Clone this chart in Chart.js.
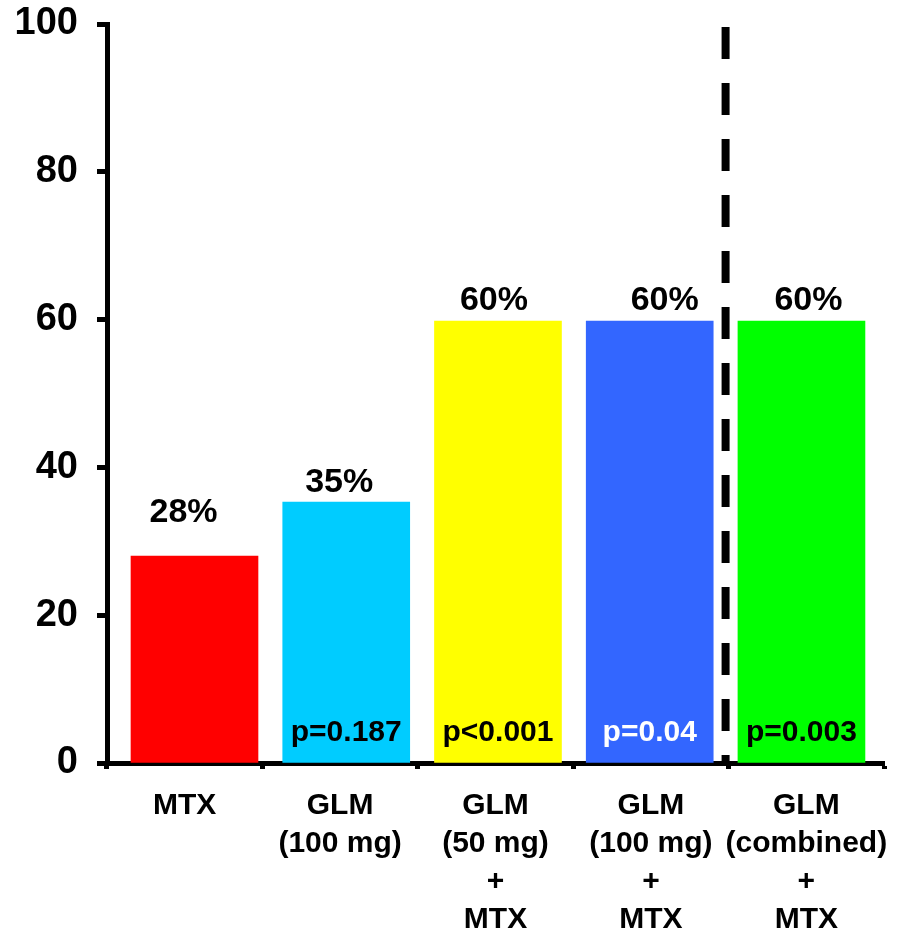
<!DOCTYPE html>
<html>
<head>
<meta charset="utf-8">
<script src="https://cdn.jsdelivr.net/npm/chart.js@4.4.1/dist/chart.umd.min.js"></script>
<style>
  html, body { margin: 0; padding: 0; background: #fff; }
  #wrap { width: 919px; height: 932px; position: relative; }
</style>
</head>
<body>
<div id="wrap"><canvas id="chart"></canvas></div>
<script>
// groups on the x axis (each one a list of label lines)
const groups = [
  ["MTX"],
  ["GLM", "(100 mg)"],
  ["GLM", "(50 mg)", "+", "MTX"],
  ["GLM", "(100 mg)", "+", "MTX"],
  ["GLM", "(combined)", "+", "MTX"],
];
// response rate, %
const responseRates = [28, 35.3, 59.8, 59.8, 59.8];
const valueLabels = ["28%", "35%", "60%", "60%", "60%"];
const pValues = ["", "p=0.187", "p<0.001", "p=0.04", "p=0.003"];
const yTicks = [0, 20, 40, 60, 80, 100];

const barColors = ["#ff0000", "#00ccff", "#ffff00", "#3366ff", "#00ff00"];
const pColors = ["#000", "#000", "#000", "#fff", "#000"];
// small nudges for the percent labels [dx, dy]
const labelNudge = [[-11, -23], [-7, 0], [-4, 0], [15, 0], [7, 0]];

const FONT = "Arial, 'Liberation Sans', sans-serif";

const barLabels = {
  id: "barLabels",
  afterDatasetsDraw(chart) {
    const ctx = chart.ctx;
    const meta = chart.getDatasetMeta(0);
    const yScale = chart.scales.y;
    const xb = chart.scales.xb;
    ctx.save();
    ctx.textAlign = "center";
    ctx.textBaseline = "middle";
    meta.data.forEach((bar, i) => {
      ctx.font = "bold 34px " + FONT;
      ctx.fillStyle = "#000";
      ctx.fillText(valueLabels[i], bar.x + labelNudge[i][0], bar.y - 20 + labelNudge[i][1]);
      if (pValues[i]) {
        ctx.font = "bold 30px " + FONT;
        ctx.fillStyle = pColors[i];
        ctx.fillText(pValues[i], bar.x, yScale.getPixelForValue(0) - 30);
      }
    });
    // dashed separator between the single-dose groups and the combined group
    const x = xb.getPixelForValue(3.5);
    ctx.beginPath();
    ctx.setLineDash([32, 24]);
    ctx.lineWidth = 8;
    ctx.strokeStyle = "#000";
    ctx.moveTo(x, chart.chartArea.top + 3);
    ctx.lineTo(x, chart.chartArea.bottom);
    ctx.stroke();
    ctx.restore();
  }
};

new Chart(document.getElementById("chart"), {
  type: "bar",
  data: {
    labels: groups,
    datasets: [{
      data: responseRates.map((v, i) => ({ x: i, y: v })),
      backgroundColor: barColors,
      borderWidth: 0,
      barThickness: 127,
      xAxisID: "xb",
      yAxisID: "y",
    }]
  },
  options: {
    responsive: true,
    maintainAspectRatio: false,
    animation: false,
    layout: { padding: { top: 24, right: 35, left: 0, bottom: 0 } },
    plugins: {
      legend: { display: false },
      tooltip: { enabled: false },
    },
    scales: {
      x: {
        type: "category",
        position: "bottom",
        offset: true,
        z: 1,
        grid: { offset: true, drawOnChartArea: false, tickLength: 6, tickWidth: 5, tickColor: "#000" },
        border: { display: true, color: "#000", width: 5 },
        ticks: {
          color: "#000",
          padding: 18,
          maxRotation: 0,
          autoSkip: false,
          font: { family: FONT, size: 30, weight: "bold", lineHeight: 1.26 },
        },
        afterFit(scale) { scale.height = 169; },
      },
      xb: {
        type: "linear",
        display: false,
        offset: false,
        min: -0.5766,
        max: 4.544,
      },
      y: {
        min: 0,
        max: 100,
        z: 1,
        afterBuildTicks(scale) { scale.ticks = yTicks.map(v => ({ value: v })); },
        grid: { drawOnChartArea: false, tickLength: 10, tickWidth: 5, tickColor: "#000" },
        border: { display: true, color: "#000", width: 5 },
        ticks: {
          color: "#000",
          padding: 19,
          font: { family: FONT, size: 38, weight: "bold" },
        },
        afterFit(scale) {
          scale.width = 107;
          scale.paddingTop = 0;
          scale.paddingBottom = 0;
        },
      }
    }
  },
  plugins: [barLabels]
});
</script>
</body>
</html>
